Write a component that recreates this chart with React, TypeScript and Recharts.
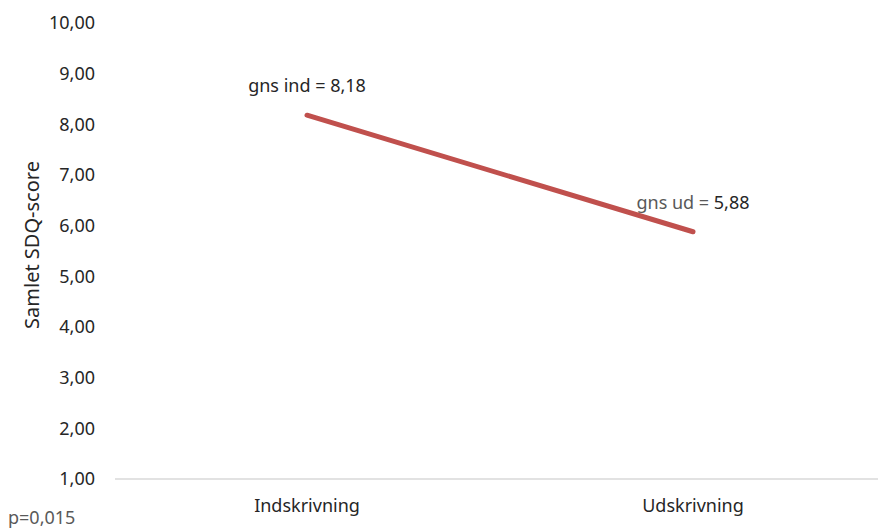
import React from 'react'
import { LineChart, Line, XAxis, YAxis, LabelList } from 'recharts'

// Mean total SDQ score at intake and at discharge
const categories = ['Indskrivning', 'Udskrivning']
const meanScores = [8.18, 5.88]
const labelPrefixes = ['gns ind = ', 'gns ud = ']
const yTicks = [1, 2, 3, 4, 5, 6, 7, 8, 9, 10]

const data = categories.map((name, i) => ({
  name,
  score: meanScores[i],
  prefix: labelPrefixes[i],
}))

const FONT = '"Noto Sans", "Open Sans", sans-serif'
const fmt = (v: number) => v.toFixed(2).replace('.', ',')

function PointLabel(props: any) {
  const { x, y, index } = props
  const d = data[index]
  // second label has a grey prefix, like the source
  const prefixColor = index === 1 ? '#595959' : '#262626'
  return (
    <text x={x} y={y - 30} textAnchor="middle" dominantBaseline="central" fontSize={18} fontFamily={FONT}>
      <tspan fill={prefixColor}>{d.prefix}</tspan>
      <tspan fill="#262626">{fmt(d.score)}</tspan>
    </text>
  )
}

function YTitle(props: any) {
  const { viewBox } = props
  const cx = 31
  const cy = viewBox.y + viewBox.height / 2 - 6
  return (
    <text
      x={cx}
      y={cy}
      transform={`rotate(-90, ${cx}, ${cy})`}
      textAnchor="middle"
      dominantBaseline="central"
      fontSize={20}
      fontFamily={FONT}
      fill="#262626"
    >
      Samlet SDQ-score
    </text>
  )
}

export default function App() {
  return (
    <div style={{ position: 'absolute', left: 0, top: 0, width: 878, height: 531, background: '#fff' }}>
      <LineChart width={878} height={531} data={data} margin={{ top: 23, right: 0, bottom: 12, left: 0 }}>
        <XAxis
          dataKey="name"
          height={40}
          padding={{ left: 192, right: 185 }}
          axisLine={{ stroke: '#d9d9d9', strokeWidth: 1.5 }}
          tickLine={false}
          tickSize={0}
          tickMargin={20}
          tick={{ fill: '#262626', fontSize: 18, fontFamily: FONT }}
        />
        <YAxis
          domain={[1, 10]}
          ticks={yTicks}
          interval={0}
          width={115}
          axisLine={false}
          tickLine={false}
          tickSize={0}
          tickMargin={20}
          tickFormatter={fmt}
          tick={{ fill: '#262626', fontSize: 18, fontFamily: FONT }}
          label={<YTitle />}
        />
        <Line
          dataKey="score"
          stroke="#C0504D"
          strokeWidth={5}
          strokeLinecap="round"
          dot={false}
          activeDot={false}
          isAnimationActive={false}
        >
          <LabelList dataKey="score" content={<PointLabel />} />
        </Line>
      </LineChart>
      <div
        style={{
          position: 'absolute',
          left: 8,
          top: 505,
          fontFamily: FONT,
          fontSize: 18,
          color: '#595959',
          lineHeight: '24px',
        }}
      >
        p=0,015
      </div>
    </div>
  )
}
